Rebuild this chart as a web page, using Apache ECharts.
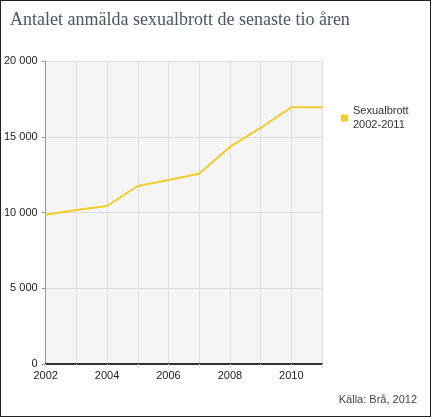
<!DOCTYPE html><html><head><meta charset="utf-8">
<script src="https://cdn.jsdelivr.net/npm/echarts@6/dist/echarts.min.js"></script>
<style>html,body{margin:0;padding:0;background:#fff}#c{position:absolute;left:0;top:0;width:429px;height:415px;border:1px solid #222}</style>
</head><body><div id="c"></div><script>
const years=[2002,2003,2004,2005,2006,2007,2008,2009,2010,2011];
const sexualbrott=[9850,10170,10430,11750,12150,12560,14330,15580,16950,16950];
const seriesName='Sexualbrott\n2002-2011';
const chart=echarts.init(document.getElementById('c'));
chart.setOption({
 animation:false,
 title:[{text:'Antalet anmälda sexualbrott de senaste tio åren',left:4,top:5,textStyle:{fontFamily:'Liberation Serif',fontSize:18,fontWeight:'normal',color:'#4a5560'}},
  {text:'Källa: Brå, 2012',right:8,bottom:6,textStyle:{fontFamily:'Liberation Sans',fontSize:11,fontWeight:'normal',color:'#444'}}],
 legend:{data:[seriesName],left:335,top:98,orient:'vertical',icon:'rect',itemWidth:7,itemHeight:7,textStyle:{fontFamily:'Liberation Sans',fontSize:11,color:'#333',lineHeight:14}},
 grid:{left:42,top:60,width:279,height:303,backgroundColor:'#f5f5f5',show:true,borderWidth:0},
 xAxis:{type:'value',min:2002,max:2011,interval:1,
  axisLine:{lineStyle:{color:'#333',width:2}},axisTick:{show:true,length:4,lineStyle:{color:'#ddd'}},
  splitLine:{show:true,lineStyle:{color:'#ddd'}},
  axisLabel:{formatter:v=>v%2===0&&v<2011?String(v):'',color:'#222',fontFamily:'Liberation Sans',fontSize:11,margin:6}},
 yAxis:{type:'value',min:0,max:20000,interval:5000,
  axisLine:{show:true,lineStyle:{color:'#999',width:1}},axisTick:{show:true,length:4,lineStyle:{color:'#999'}},
  splitLine:{lineStyle:{color:'#ddd'}},
  axisLabel:{formatter:v=>v===0?'0':String(v).replace(/(\d+)(\d{3})$/,'$1 $2'),color:'#222',fontFamily:'Liberation Sans',fontSize:11}},
 series:[{name:seriesName,type:'line',data:years.map((y,i)=>[y,sexualbrott[i]]),symbol:'none',lineStyle:{color:'#f2cc28',width:2},itemStyle:{color:'#f2cc28'}}]
});
</script></body></html>
